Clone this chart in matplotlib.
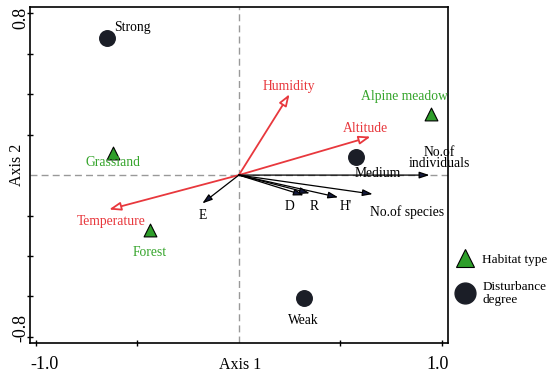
import matplotlib
matplotlib.use("Agg")
import matplotlib.pyplot as plt
import matplotlib.transforms as mtransforms
from matplotlib.lines import Line2D

plt.rcParams['font.family'] = ['Liberation Serif', 'DejaVu Serif']

# habitat types (triangles)
habitats = ["Grassland", "Forest", "Alpine meadow"]
hab_x = [-0.62, -0.44, 0.95]
hab_y = [0.11, -0.27, 0.30]

# disturbance degree (circles)
disturb = ["Strong", "Medium", "Weak"]
dis_x = [-0.65, 0.58, 0.32]
dis_y = [0.68, 0.09, -0.61]

# environmental variables (red arrows)
env = ["Humidity", "Altitude", "Temperature"]
env_x = [0.25, 0.65, -0.64]
env_y = [0.40, 0.19, -0.17]

# diversity indices (black arrows)
div = ["No.of\nindividuals", "No.of species", "H'", "R", "D", "E"]
div_x = [0.94, 0.66, 0.49, 0.35, 0.32, -0.18]
div_y = [0.0, -0.094, -0.11, -0.09, -0.10, -0.14]

# label offsets in pixels (dx, dy)
hab_off = [(0, -10), (0, -23), (-27, 18)]
dis_off = [(7, 10), (21, -17), (0, -22)]
env_off = [(-1, 8), (-5, 8), (2, -12)]
div_off = [(10, 17), (34, -18), (8, -9), (4, -13), (-14, -11), (0, -12)]

RED = "#e8383d"
GREEN = "#36a52c"
NAVY = "#141a3c"
DARK = "#1b1e27"
FS = 9.8

fig = plt.figure(figsize=(5.5, 3.78), dpi=100)
ax = fig.add_axes([0.0545, 0.0926, 0.7595, 0.8884])

ax.axvline(0, color="#999999", lw=1, ls=(0, (5, 3)), zorder=0)
ax.axhline(0, color="#999999", lw=1, ls=(0, (5, 3)), zorder=0)

for name, x, y, (dx, dy) in zip(env, env_x, env_y, env_off):
    ax.annotate("", xy=(x, y), xytext=(0, 0),
                arrowprops=dict(arrowstyle="-|>,head_length=0.7,head_width=0.25",
                                fc="white", ec=RED, lw=1.3, shrinkA=0, shrinkB=0))
    ax.annotate(name, (x, y), xytext=(dx, dy), textcoords="offset pixels",
                ha="center", va="center", color=RED, fontsize=FS)

for name, x, y, (dx, dy) in zip(div, div_x, div_y, div_off):
    ax.annotate("", xy=(x, y), xytext=(0, 0),
                arrowprops=dict(arrowstyle="-|>,head_length=0.6,head_width=0.2",
                                fc=NAVY, ec="black", lw=0.9, shrinkA=0, shrinkB=0))
    ax.annotate(name, (x, y), xytext=(dx, dy), textcoords="offset pixels",
                ha="center", va="center", color="black", fontsize=FS,
                linespacing=0.85)

ax.scatter(dis_x, dis_y, s=125, color=DARK, zorder=3)
for name, x, y, (dx, dy) in zip(disturb, dis_x, dis_y, dis_off):
    ha = "left" if name == "Strong" else "center"
    ax.annotate(name, (x, y), xytext=(dx, dy), textcoords="offset pixels",
                ha=ha, va="center", color="black", fontsize=FS)

ax.scatter(hab_x, hab_y, s=85, marker="^", color="#2e9e2a", edgecolor="black",
           linewidth=0.8, zorder=3)
for name, x, y, (dx, dy) in zip(habitats, hab_x, hab_y, hab_off):
    ax.annotate(name, (x, y), xytext=(dx, dy), textcoords="offset pixels",
                ha="center", va="center", color=GREEN, fontsize=FS)

ax.set_xlim(-1.03, 1.03)
ax.set_ylim(-0.83, 0.83)
ax.set_xticks([-1.0, -0.5, 0.5, 1.0])
ax.set_xticklabels(["-1.0", "", "", "1.0"], fontsize=13)
ax.set_yticks([-0.8, -0.6, -0.4, -0.2, 0.2, 0.4, 0.6, 0.8])
ax.set_yticklabels(["-0.8", "", "", "", "", "", "", "0.8"], fontsize=13,
                   rotation=90, va="center")
ax.tick_params(direction="inout", length=5, width=1)
ax.tick_params(axis="x", pad=7)
ax.tick_params(axis="y", pad=-2)

# end labels sit a little inward of their ticks in the original
shifts_x = [8, 0, 0, -4]
shifts_y = [9, 0, 0, 0, 0, 0, 0, -5]
for lab, d in zip(ax.get_xticklabels(), shifts_x):
    lab.set_transform(lab.get_transform() +
                      mtransforms.ScaledTranslation(d / 100, 0, fig.dpi_scale_trans))
for lab, d in zip(ax.get_yticklabels(), shifts_y):
    lab.set_transform(lab.get_transform() +
                      mtransforms.ScaledTranslation(0, d / 100, fig.dpi_scale_trans))

for s in ax.spines.values():
    s.set_linewidth(1.2)
ax.set_xlabel("Axis 1", fontsize=11.5)
ax.set_ylabel("Axis 2", fontsize=11.5)
ax.xaxis.set_label_coords(0.503, -0.042)
ax.yaxis.set_label_coords(-0.013, 0.53)

handles = [Line2D([], [], marker="^", ls="", markersize=13, color="#2e9e2a",
                  markeredgecolor="black", markeredgewidth=0.8),
           Line2D([], [], marker="o", ls="", markersize=15, color=DARK)]
fig.legend(handles, ["Habitat type", "Disturbance\ndegree"],
           loc="upper left", bbox_to_anchor=(0.80, 0.36), frameon=False,
           fontsize=9.5, handletextpad=0.3, labelspacing=1.1)

fig.savefig("out.png", dpi=100)
